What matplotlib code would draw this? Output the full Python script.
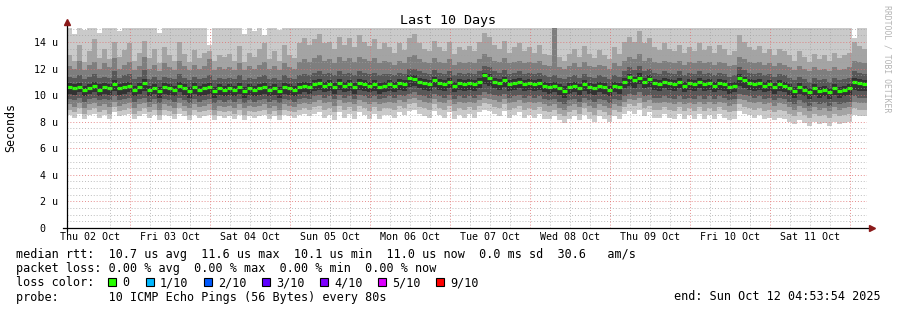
import numpy as np
import matplotlib
matplotlib.use("Agg")
import matplotlib.pyplot as plt
from matplotlib.patches import Rectangle

plt.rcParams['font.family'] = ['DejaVu Sans Mono']

# 160 columns over the 10 days (5 px each in the original), values in microseconds
med = [
    10.6, 10.5, 10.6, 10.4, 10.5, 10.7, 10.4, 10.6, 10.5, 10.8, 10.5, 10.6, 10.7, 10.4, 10.6, 10.9,
    10.4, 10.5, 10.3, 10.6, 10.5, 10.4, 10.7, 10.5, 10.3, 10.6, 10.4, 10.5, 10.6, 10.3, 10.5, 10.4,
    10.5, 10.4, 10.6, 10.3, 10.5, 10.4, 10.5, 10.6, 10.4, 10.5, 10.3, 10.6, 10.5, 10.4, 10.6, 10.7,
    10.6, 10.8, 10.9, 10.7, 10.8, 10.6, 10.9, 10.7, 10.8, 10.6, 10.9, 10.8, 10.7, 10.8, 10.6, 10.7,
    10.8, 10.7, 10.9, 10.8, 11.3, 11.2, 11.0, 10.9, 10.8, 11.1, 10.9, 10.8, 11.0, 10.7, 10.9, 10.8,
    10.9, 10.8, 11.0, 11.5, 11.3, 11.0, 10.9, 11.1, 10.8, 10.9, 11.0, 10.8, 10.9, 10.8, 10.9, 10.7,
    10.6, 10.7, 10.5, 10.3, 10.6, 10.7, 10.5, 10.8, 10.6, 10.5, 10.7, 10.6, 10.4, 10.7, 10.6, 11.0,
    11.4, 11.1, 11.3, 11.0, 11.2, 10.9, 10.8, 11.0, 10.9, 10.8, 11.0, 10.7, 10.9, 10.8, 11.0, 10.8,
    10.9, 10.7, 10.9, 10.8, 10.6, 10.7, 11.3, 11.1, 10.9, 10.8, 10.9, 10.7, 10.8, 10.6, 10.8, 10.7,
    10.5, 10.3, 10.6, 10.4, 10.2, 10.5, 10.3, 10.4, 10.2, 10.5, 10.3, 10.4, 10.5, 11.0, 10.9, 10.8,
]

# sorted pings: p1 lowest ... p10 highest
p1 = [
    8.5, 8.3, 8.6, 8.2, 8.5, 8.6, 8.3, 8.5, 8.2, 8.7, 8.4, 8.5, 8.6, 8.2, 8.4, 8.6,
    8.3, 8.5, 8.1, 8.5, 8.4, 8.2, 8.6, 8.4, 8.1, 8.5, 8.3, 8.4, 8.5, 8.1, 8.4, 8.3,
    8.4, 8.2, 8.5, 8.1, 8.4, 8.3, 8.4, 8.5, 8.2, 8.4, 8.1, 8.5, 8.4, 8.3, 8.5, 8.6,
    8.4, 8.6, 8.7, 8.3, 8.5, 8.1, 8.7, 8.3, 8.6, 8.2, 8.7, 8.5, 8.2, 8.6, 8.2, 8.5,
    8.5, 8.3, 8.7, 8.5, 8.8, 8.9, 8.6, 8.4, 8.3, 8.8, 8.5, 8.3, 8.7, 8.2, 8.5, 8.3,
    8.6, 8.3, 8.7, 8.9, 8.8, 8.6, 8.4, 8.8, 8.3, 8.5, 8.7, 8.3, 8.5, 8.3, 8.6, 8.2,
    8.2, 8.4, 8.1, 7.9, 8.2, 8.4, 8.1, 8.5, 8.2, 8.0, 8.4, 8.2, 8.0, 8.4, 8.2, 8.6,
    8.8, 8.6, 8.9, 8.4, 8.7, 8.3, 8.3, 8.6, 8.3, 8.2, 8.6, 8.2, 8.5, 8.2, 8.6, 8.2,
    8.5, 8.2, 8.6, 8.3, 8.1, 8.2, 8.8, 8.6, 8.5, 8.3, 8.5, 8.2, 8.3, 8.1, 8.3, 8.2,
    8.0, 7.8, 8.1, 7.9, 7.7, 8.0, 7.8, 7.9, 7.7, 8.0, 7.8, 7.9, 8.0, 8.5, 8.4, 8.4,
]
p2 = [
    8.9, 8.7, 9.0, 8.6, 8.9, 9.0, 8.7, 8.9, 8.6, 9.1, 8.8, 8.9, 9.0, 8.6, 8.8, 9.0,
    8.7, 8.9, 8.5, 8.9, 8.8, 8.6, 9.0, 8.8, 8.5, 8.9, 8.7, 8.8, 8.9, 8.5, 8.8, 8.7,
    8.8, 8.6, 8.9, 8.5, 8.8, 8.7, 8.8, 8.9, 8.6, 8.8, 8.5, 8.9, 8.8, 8.7, 8.9, 9.0,
    8.9, 9.1, 9.2, 8.9, 9.0, 8.7, 9.2, 8.9, 9.1, 8.8, 9.2, 9.0, 8.8, 9.1, 8.8, 9.0,
    9.0, 8.9, 9.2, 9.0, 9.3, 9.4, 9.1, 9.0, 8.9, 9.3, 9.0, 8.9, 9.2, 8.8, 9.0, 8.9,
    9.1, 8.9, 9.2, 9.4, 9.3, 9.1, 9.0, 9.3, 8.9, 9.0, 9.2, 8.9, 9.0, 8.9, 9.1, 8.8,
    8.7, 8.9, 8.6, 8.4, 8.7, 8.9, 8.6, 9.0, 8.7, 8.5, 8.9, 8.7, 8.5, 8.9, 8.7, 9.1,
    9.3, 9.2, 9.4, 9.0, 9.2, 8.9, 8.9, 9.1, 8.9, 8.8, 9.1, 8.8, 9.0, 8.8, 9.1, 8.8,
    9.0, 8.8, 9.1, 8.9, 8.7, 8.8, 9.3, 9.1, 9.0, 8.9, 9.0, 8.8, 8.9, 8.7, 8.9, 8.8,
    8.6, 8.4, 8.7, 8.5, 8.3, 8.6, 8.4, 8.5, 8.3, 8.6, 8.4, 8.5, 8.6, 9.0, 8.9, 8.9,
]
p3 = [
    9.3, 9.1, 9.4, 9.0, 9.3, 9.4, 9.2, 9.3, 9.1, 9.5, 9.2, 9.3, 9.4, 9.0, 9.3, 9.4,
    9.1, 9.3, 8.9, 9.3, 9.2, 9.0, 9.4, 9.2, 9.0, 9.3, 9.1, 9.2, 9.3, 8.9, 9.2, 9.1,
    9.2, 9.0, 9.3, 9.0, 9.2, 9.1, 9.2, 9.3, 9.0, 9.2, 8.9, 9.3, 9.2, 9.1, 9.3, 9.4,
    9.3, 9.5, 9.6, 9.4, 9.5, 9.2, 9.6, 9.4, 9.5, 9.3, 9.6, 9.5, 9.3, 9.5, 9.3, 9.4,
    9.5, 9.4, 9.6, 9.5, 9.7, 9.8, 9.6, 9.5, 9.4, 9.7, 9.5, 9.4, 9.6, 9.3, 9.5, 9.4,
    9.5, 9.4, 9.6, 9.8, 9.7, 9.6, 9.5, 9.7, 9.4, 9.5, 9.6, 9.4, 9.5, 9.4, 9.5, 9.3,
    9.2, 9.3, 9.0, 8.9, 9.2, 9.3, 9.1, 9.4, 9.2, 9.0, 9.3, 9.2, 9.0, 9.3, 9.2, 9.5,
    9.7, 9.6, 9.8, 9.5, 9.6, 9.4, 9.4, 9.5, 9.4, 9.3, 9.5, 9.3, 9.4, 9.3, 9.5, 9.3,
    9.5, 9.3, 9.5, 9.4, 9.2, 9.3, 9.7, 9.6, 9.5, 9.4, 9.5, 9.3, 9.4, 9.2, 9.4, 9.3,
    9.1, 8.9, 9.2, 9.0, 8.8, 9.1, 8.9, 9.0, 8.8, 9.1, 8.9, 9.0, 9.1, 9.5, 9.4, 9.4,
]
p4 = [
    9.7, 9.6, 9.8, 9.5, 9.7, 9.8, 9.6, 9.7, 9.6, 9.9, 9.6, 9.7, 9.8, 9.5, 9.7, 9.8,
    9.5, 9.7, 9.4, 9.7, 9.6, 9.5, 9.8, 9.6, 9.4, 9.7, 9.5, 9.6, 9.7, 9.4, 9.6, 9.5,
    9.6, 9.5, 9.7, 9.4, 9.6, 9.5, 9.6, 9.7, 9.5, 9.6, 9.4, 9.7, 9.6, 9.5, 9.7, 9.8,
    9.7, 9.9, 10.0, 9.8, 9.9, 9.7, 10.0, 9.8, 9.9, 9.7, 10.0, 9.9, 9.8, 9.9, 9.7, 9.8,
    9.9, 9.8, 10.0, 9.9, 10.1, 10.2, 10.0, 9.9, 9.8, 10.1, 9.9, 9.8, 10.0, 9.7, 9.9, 9.8,
    9.9, 9.8, 10.0, 10.2, 10.1, 10.0, 9.9, 10.1, 9.8, 9.9, 10.0, 9.8, 9.9, 9.8, 9.9, 9.7,
    9.6, 9.7, 9.5, 9.3, 9.6, 9.7, 9.5, 9.8, 9.6, 9.5, 9.7, 9.6, 9.4, 9.7, 9.6, 9.9,
    10.1, 10.0, 10.2, 9.9, 10.0, 9.8, 9.8, 9.9, 9.8, 9.7, 9.9, 9.7, 9.8, 9.7, 9.9, 9.7,
    9.9, 9.7, 9.9, 9.8, 9.6, 9.7, 10.1, 10.0, 9.9, 9.8, 9.9, 9.7, 9.8, 9.6, 9.8, 9.7,
    9.5, 9.3, 9.6, 9.4, 9.2, 9.5, 9.3, 9.4, 9.2, 9.5, 9.3, 9.4, 9.5, 9.9, 9.8, 9.8,
]
p5 = [
    10.1, 10.0, 10.2, 9.9, 10.1, 10.2, 9.9, 10.1, 10.0, 10.3, 10.0, 10.1, 10.2, 9.9, 10.1, 10.3,
    9.9, 10.1, 9.8, 10.1, 10.0, 9.9, 10.2, 10.0, 9.8, 10.1, 9.9, 10.0, 10.1, 9.8, 10.0, 9.9,
    10.0, 9.9, 10.1, 9.8, 10.0, 9.9, 10.0, 10.1, 9.9, 10.0, 9.8, 10.1, 10.0, 9.9, 10.1, 10.2,
    10.1, 10.3, 10.4, 10.2, 10.3, 10.1, 10.4, 10.2, 10.3, 10.1, 10.4, 10.3, 10.2, 10.3, 10.1, 10.2,
    10.3, 10.2, 10.4, 10.3, 10.6, 10.7, 10.5, 10.4, 10.3, 10.6, 10.4, 10.3, 10.5, 10.2, 10.4, 10.3,
    10.4, 10.3, 10.5, 10.8, 10.7, 10.5, 10.4, 10.6, 10.3, 10.4, 10.5, 10.3, 10.4, 10.3, 10.4, 10.2,
    10.1, 10.2, 10.0, 9.8, 10.1, 10.2, 10.0, 10.3, 10.1, 10.0, 10.2, 10.1, 9.9, 10.2, 10.1, 10.5,
    10.7, 10.5, 10.8, 10.5, 10.6, 10.4, 10.3, 10.5, 10.4, 10.3, 10.5, 10.2, 10.4, 10.3, 10.5, 10.3,
    10.4, 10.2, 10.4, 10.3, 10.1, 10.2, 10.7, 10.5, 10.4, 10.3, 10.4, 10.2, 10.3, 10.1, 10.3, 10.2,
    10.0, 9.8, 10.1, 9.9, 9.7, 10.0, 9.8, 9.9, 9.7, 10.0, 9.8, 9.9, 10.0, 10.4, 10.3, 10.3,
]
p6 = [
    10.9, 10.8, 10.9, 10.7, 10.8, 11.0, 10.8, 10.9, 10.8, 11.1, 10.8, 10.9, 11.0, 10.7, 10.9, 11.2,
    10.7, 10.8, 10.6, 10.9, 10.8, 10.7, 11.0, 10.8, 10.6, 10.9, 10.7, 10.8, 10.9, 10.6, 10.8, 10.7,
    10.8, 10.7, 10.9, 10.6, 10.8, 10.7, 10.8, 10.9, 10.7, 10.8, 10.6, 10.9, 10.8, 10.7, 10.9, 11.0,
    10.9, 11.1, 11.2, 11.0, 11.1, 10.9, 11.2, 11.0, 11.1, 10.9, 11.2, 11.1, 11.0, 11.1, 10.9, 11.0,
    11.1, 11.0, 11.2, 11.1, 11.5, 11.5, 11.3, 11.2, 11.1, 11.4, 11.2, 11.1, 11.3, 11.0, 11.2, 11.1,
    11.2, 11.1, 11.3, 11.7, 11.6, 11.3, 11.2, 11.4, 11.1, 11.2, 11.3, 11.1, 11.2, 11.1, 11.2, 11.0,
    10.9, 11.0, 10.8, 10.7, 10.9, 11.0, 10.8, 11.1, 10.9, 10.8, 11.0, 10.9, 10.7, 11.0, 10.9, 11.3,
    11.6, 11.4, 11.7, 11.3, 11.5, 11.2, 11.1, 11.3, 11.2, 11.1, 11.3, 11.0, 11.2, 11.1, 11.3, 11.1,
    11.2, 11.0, 11.2, 11.1, 10.9, 11.0, 11.6, 11.4, 11.2, 11.1, 11.2, 11.0, 11.1, 10.9, 11.1, 11.0,
    10.8, 10.6, 10.9, 10.7, 10.5, 10.8, 10.6, 10.7, 10.5, 10.8, 10.6, 10.7, 10.8, 11.3, 11.2, 11.1,
]
p7 = [
    11.4, 11.3, 11.5, 11.2, 11.4, 11.6, 11.3, 11.4, 11.3, 11.8, 11.3, 11.5, 11.6, 11.2, 11.4, 11.9,
    11.2, 11.4, 11.1, 11.4, 11.3, 11.2, 11.6, 11.3, 11.1, 11.4, 11.2, 11.3, 11.5, 11.1, 11.3, 11.2,
    11.3, 11.2, 11.5, 11.1, 11.3, 11.2, 11.4, 11.5, 11.2, 11.3, 11.1, 11.5, 11.3, 11.2, 11.5, 11.6,
    11.5, 11.7, 11.8, 11.6, 11.7, 11.5, 11.8, 11.6, 11.7, 11.5, 11.8, 11.7, 11.6, 11.7, 11.5, 11.6,
    11.6, 11.5, 11.7, 11.6, 12.0, 12.0, 11.8, 11.7, 11.6, 11.9, 11.7, 11.6, 11.8, 11.5, 11.7, 11.6,
    11.7, 11.6, 11.8, 12.2, 12.1, 11.8, 11.7, 11.9, 11.6, 11.7, 11.8, 11.6, 11.7, 11.6, 11.7, 11.5,
    11.4, 11.5, 11.3, 11.2, 11.4, 11.5, 11.3, 11.6, 11.4, 11.3, 11.5, 11.4, 11.2, 11.5, 11.4, 11.8,
    12.1, 11.9, 12.2, 11.8, 12.0, 11.7, 11.6, 11.8, 11.7, 11.6, 11.8, 11.5, 11.7, 11.6, 11.8, 11.6,
    11.7, 11.5, 11.7, 11.6, 11.4, 11.5, 12.1, 11.9, 11.7, 11.6, 11.7, 11.5, 11.6, 11.4, 11.6, 11.5,
    11.3, 11.1, 11.4, 11.2, 11.0, 11.3, 11.1, 11.2, 11.0, 11.3, 11.1, 11.2, 11.3, 11.8, 11.7, 11.6,
]
p8 = [
    12.2, 12.0, 12.6, 11.9, 12.3, 12.5, 12.0, 12.4, 12.1, 12.8, 12.0, 12.3, 12.5, 11.9, 12.2, 12.9,
    12.0, 12.3, 11.8, 12.4, 12.1, 11.9, 12.6, 12.2, 11.9, 12.3, 12.0, 12.2, 12.7, 11.9, 12.1, 12.0,
    12.1, 11.9, 12.4, 11.9, 12.2, 12.0, 12.3, 12.5, 12.0, 12.2, 11.9, 12.4, 12.1, 12.0, 12.5, 12.7,
    12.5, 12.8, 13.0, 12.6, 12.7, 12.4, 12.9, 12.6, 12.8, 12.5, 12.9, 12.7, 12.6, 12.8, 12.4, 12.6,
    12.5, 12.3, 12.6, 12.4, 12.9, 13.0, 12.7, 12.5, 12.4, 12.8, 12.5, 12.4, 12.7, 12.3, 12.5, 12.4,
    12.5, 12.4, 12.7, 13.1, 12.9, 12.6, 12.5, 12.8, 12.4, 12.5, 12.6, 12.4, 12.5, 12.4, 12.6, 12.3,
    12.2, 15.5, 12.1, 12.0, 12.2, 12.4, 12.1, 12.5, 12.2, 12.1, 12.3, 12.2, 12.0, 12.4, 12.2, 12.6,
    12.9, 12.7, 13.1, 12.6, 12.8, 12.5, 12.4, 12.6, 12.5, 12.4, 12.6, 12.3, 12.5, 12.4, 12.6, 12.4,
    12.5, 12.3, 12.5, 12.4, 12.2, 12.3, 12.9, 12.7, 12.5, 12.4, 12.5, 12.3, 12.4, 12.2, 12.4, 12.3,
    12.1, 11.9, 12.2, 12.0, 11.8, 12.1, 11.9, 12.0, 11.8, 12.1, 11.9, 12.0, 12.1, 12.6, 12.5, 12.4,
]
p9 = [
    13.0, 12.6, 13.8, 12.5, 13.3, 14.2, 12.8, 13.5, 12.7, 14.0, 12.9, 13.4, 13.9, 12.6, 13.2, 14.1,
    12.8, 13.5, 12.4, 13.6, 13.0, 12.6, 14.0, 13.1, 12.5, 13.4, 12.8, 13.2, 13.3, 12.6, 13.0, 12.9,
    13.1, 12.6, 13.7, 12.5, 13.2, 12.9, 13.5, 13.9, 12.7, 13.3, 12.6, 13.8, 13.0, 12.8, 13.9, 14.3,
    13.8, 14.2, 14.6, 13.9, 14.0, 13.5, 14.4, 13.8, 14.3, 13.6, 14.5, 14.0, 13.7, 14.2, 13.5, 13.9,
    13.6, 13.2, 13.9, 13.4, 14.3, 14.6, 13.9, 13.5, 13.3, 14.1, 13.6, 13.3, 14.0, 13.1, 13.6, 13.4,
    13.7, 13.3, 14.0, 14.7, 14.4, 13.8, 13.5, 14.1, 13.2, 13.6, 13.9, 13.3, 13.6, 13.2, 13.8, 13.1,
    13.0, 15.5, 12.9, 12.6, 13.1, 13.5, 12.9, 13.7, 13.1, 12.8, 13.4, 13.0, 12.7, 13.6, 13.1, 14.0,
    14.4, 14.0, 14.8, 13.9, 14.3, 13.6, 13.4, 13.9, 13.5, 13.3, 13.8, 13.2, 13.6, 13.3, 13.9, 13.4,
    13.7, 13.2, 13.8, 13.5, 13.0, 13.3, 14.5, 14.0, 13.6, 13.4, 13.7, 13.2, 13.5, 13.0, 13.5, 13.3,
    13.0, 12.6, 13.3, 12.9, 12.5, 13.1, 12.7, 13.0, 12.6, 13.2, 12.8, 13.0, 13.2, 14.0, 13.7, 13.5,
]
p10 = [
    15.5, 14.6, 15.5, 14.9, 15.5, 15.5, 14.7, 15.5, 15.5, 15.5, 14.8, 15.5, 15.5, 15.5, 15.5, 15.5,
    15.5, 15.5, 14.7, 15.5, 15.5, 15.5, 15.5, 15.5, 15.5, 15.5, 15.5, 15.5, 13.8, 15.5, 15.5, 15.5,
    15.5, 15.5, 15.5, 14.6, 15.5, 14.8, 15.5, 14.5, 15.5, 15.5, 14.9, 15.5, 15.5, 15.5, 15.5, 15.5,
    15.5, 15.5, 15.5, 15.5, 15.5, 15.5, 15.5, 15.5, 15.5, 15.5, 15.5, 15.5, 15.5, 15.5, 15.5, 15.5,
    15.5, 15.5, 15.5, 15.5, 15.5, 15.5, 15.5, 15.5, 15.5, 15.5, 15.5, 15.5, 15.5, 15.5, 15.5, 15.5,
    15.5, 15.5, 15.5, 15.5, 15.5, 15.5, 15.5, 15.5, 15.5, 15.5, 15.5, 15.5, 15.5, 15.5, 15.5, 15.5,
    15.5, 15.5, 15.5, 15.5, 15.5, 15.5, 15.5, 15.5, 15.5, 15.5, 15.5, 15.5, 15.5, 15.5, 15.5, 15.5,
    15.5, 15.5, 15.5, 15.5, 15.5, 15.5, 15.5, 15.5, 15.5, 15.5, 15.5, 15.5, 15.5, 15.5, 15.5, 15.5,
    15.5, 15.5, 15.5, 15.5, 15.5, 15.5, 15.5, 15.5, 15.5, 15.5, 15.5, 15.5, 15.5, 15.5, 15.5, 15.5,
    15.5, 15.5, 15.5, 15.5, 15.5, 15.5, 15.5, 15.5, 15.5, 15.5, 15.5, 15.5, 15.5, 14.3, 15.5, 15.5,
]

day_labels = ['Thu 02 Oct', 'Fri 03 Oct', 'Sat 04 Oct', 'Sun 05 Oct', 'Mon 06 Oct',
              'Tue 07 Oct', 'Wed 08 Oct', 'Thu 09 Oct', 'Fri 10 Oct', 'Sat 11 Oct']
ytick_vals = [0, 2, 4, 6, 8, 10, 12, 14]
ytick_labels = ['0  ', '2 u', '4 u', '6 u', '8 u', '10 u', '12 u', '14 u']
loss_labels = ['0', '1/10', '2/10', '3/10', '4/10', '5/10', '9/10']
loss_colors = ['#26ff00', '#00b8ff', '#0059ff', '#5e00ff', '#7e00ff', '#dd00ff', '#ff0000']

start_offset = (4 + 53/60 + 54/3600) / 24   # graph starts Thu 02 04:53:54
n_days = 10

W, H = 897, 310
fig = plt.figure(figsize=(W/100, H/100), dpi=100)
fig.patch.set_facecolor('white')

def fx(px):
    return px / W

def fy(py):
    return 1 - py / H

ax = fig.add_axes([fx(66.5), fy(228), 800/W, 200/H])
ax.set_xlim(0, n_days)
ax.set_ylim(0, 15.05)
for s in ax.spines.values():
    s.set_visible(False)

pings = [np.array(p) for p in (p1, p2, p3, p4, p5, p6, p7, p8, p9, p10)]
n = len(med)
edges = np.linspace(0, n_days, n + 1)
shades = ['#cacaca', '#a4a4a4', '#7e7e7e', '#585858', '#323232']
for i, c in enumerate(shades):
    lo = pings[i]
    hi = pings[9 - i]
    ax.fill_between(edges, np.append(lo, lo[-1]), np.append(hi, hi[-1]),
                    step='post', color=c, lw=0, antialiased=False, zorder=1)

ax.hlines(med, edges[:-1], edges[1:], colors='#26ff00', lw=2.3, zorder=3,
          capstyle='butt')

# grid on top, rrdtool style
for v in np.arange(0.5, 15.05, 0.5):
    if v % 2 == 0:
        continue
    ax.axhline(v, color='#a0a0a0', lw=0.7, ls=(0, (1, 2)), alpha=0.7, zorder=4)
for v in ytick_vals[1:]:
    ax.axhline(v, color='#e07070', lw=0.7, ls=(0, (1, 2)), alpha=0.8, zorder=5)
for k in range(-1, 41):
    xv = 1 - start_offset + k * 0.25
    if xv <= 0 or xv >= n_days:
        continue
    if k % 4 == 0:
        ax.axvline(xv, color='#e07070', lw=0.7, ls=(0, (1, 2)), alpha=0.8, zorder=5)
    else:
        ax.axvline(xv, color='#a0a0a0', lw=0.7, ls=(0, (1, 2)), alpha=0.7, zorder=4)

# ticks and labels
noon = [0.5 - start_offset + i for i in range(n_days)]
ax.set_xticks(noon, day_labels)
ax.set_yticks(ytick_vals, ytick_labels)
ax.tick_params(axis='x', length=0, pad=3, labelsize=7.2)
ax.tick_params(axis='y', length=0, pad=6, labelsize=7.2)

# axes with arrows
ax.plot([-0.004, 1.004], [0, 0], transform=ax.transAxes, color='black', lw=0.9,
        clip_on=False, zorder=6)
ax.plot([0, 0], [-0.015, 1.03], transform=ax.transAxes, color='black', lw=0.9,
        clip_on=False, zorder=6)
ax.plot([1.0065], [0], marker='>', ms=4, color='#8b1a1a', transform=ax.transAxes,
        clip_on=False, zorder=7)
ax.plot([0], [1.03], marker='^', ms=4, color='#8b1a1a', transform=ax.transAxes,
        clip_on=False, zorder=7)

fig.text(fx(448), fy(24), 'Last 10 Days', ha='center', va='baseline', fontsize=9.6)
fig.text(fx(11), fy(127), 'Seconds', ha='center', va='center', rotation=90, fontsize=8.4)
fig.text(fx(886.5), fy(59), 'RRDTOOL / TOBI OETIKER', ha='center', va='center',
         rotation=270, fontsize=5.9, color='#b4b4b4')

fs = 8.5
fig.text(fx(16), fy(258), 'median rtt:  10.7 us avg  11.6 us max  10.1 us min  '
         '11.0 us now  0.0 ms sd  30.6   am/s', fontsize=fs, va='baseline')
fig.text(fx(16), fy(272), 'packet loss: 0.00 % avg  0.00 % max  0.00 % min  0.00 % now',
         fontsize=fs, va='baseline')
fig.text(fx(16), fy(286), 'loss color:', fontsize=fs, va='baseline')
box_x = [108, 146, 204, 262, 320, 378, 436]
for bx, lab, col in zip(box_x, loss_labels, loss_colors):
    fig.add_artist(Rectangle((fx(bx), fy(286)), 8/W, 8/H, transform=fig.transFigure,
                             facecolor=col, edgecolor='black', lw=0.8))
    fig.text(fx(bx + 14), fy(286), lab, fontsize=fs, va='baseline')
fig.text(fx(16), fy(300.5), 'probe:       10 ICMP Echo Pings (56 Bytes) every 80s',
         fontsize=fs, va='baseline')
fig.text(fx(881), fy(300.5), 'end: Sun Oct 12 04:53:54 2025', fontsize=fs,
         va='baseline', ha='right')

plt.savefig('out.png', dpi=100)
